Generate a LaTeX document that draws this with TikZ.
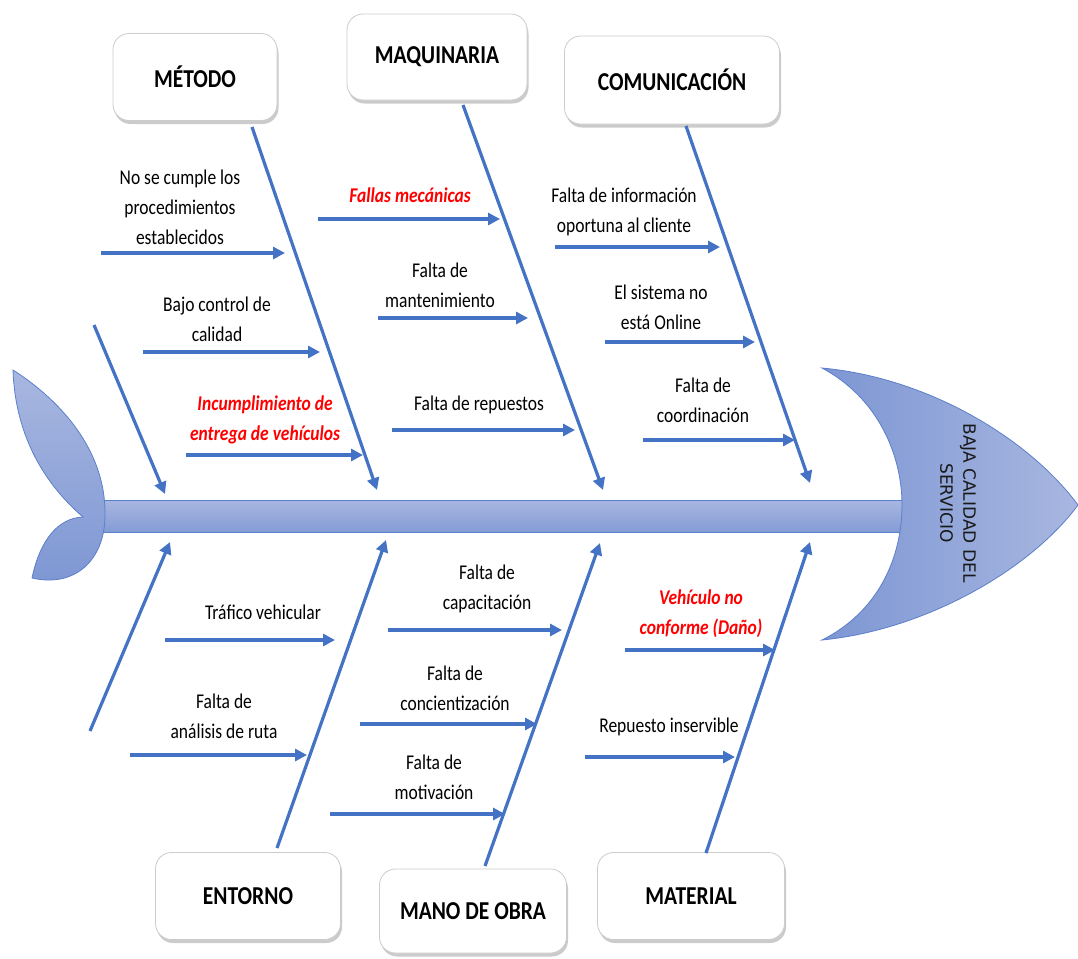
\documentclass[tikz,border=0pt]{standalone}
\usepackage{fontspec}
\usepackage{graphicx}
\setmainfont{Carlito}
\newfontfamily\headfont{DejaVu Sans}
\usetikzlibrary{arrows.meta,shadows}
\definecolor{bonec}{HTML}{4472C4}
\definecolor{fishA}{HTML}{A8B7E0}
\definecolor{fishB}{HTML}{7D96D3}
\definecolor{fishline}{HTML}{5B7FCB}
\newcommand\vs[1]{\scalebox{1}[1.2]{#1}}
\tikzset{
  catbox/.style={draw=black!20, fill=white, rounded corners=16pt, line width=0.8pt,
    drop shadow={shadow xshift=1.5pt,shadow yshift=-3.5pt,fill=black!45,opacity=.45},
    font=\fontsize{21.5}{26}\selectfont\bfseries},
  bonearrow/.style={draw=bonec, line width=3.2pt, -{Triangle[length=12pt,width=12pt]}},
  lab/.style={align=center, inner sep=0pt, font=\fontsize{17.5}{30}\selectfont},
  hot/.style={align=center, inner sep=0pt, text=red, font=\fontsize{17.5}{30}\selectfont\bfseries\itshape},
}
\begin{document}
\begin{tikzpicture}[x=1pt,y=-1pt]
\useasboundingbox (0,0) rectangle (1078,958);

% spine
\path[top color=fishA, bottom color=fishB!85!fishA, draw=fishline, line width=0.8pt]
  (100,500) rectangle (910,532);
% tail
\path[top color=fishA, bottom color=fishB, draw=fishline, line width=0.8pt]
  (13,370) .. controls (60,400) and (106,450) .. (105,515)
  .. controls (105,560) and (75,588) .. (32,578)
  .. controls (40,540) and (58,518) .. (83,517)
  .. controls (40,480) and (15,430) .. (13,370) -- cycle;
% head
\path[left color=fishB, right color=fishA, draw=fishline, line width=0.8pt]
  (822,368) .. controls (878,398) and (902,455) .. (902,505)
  .. controls (902,558) and (878,612) .. (822,640)
  .. controls (925,630) and (1030,570) .. (1078,505)
  .. controls (1030,440) and (930,378) .. (822,368) -- cycle;
\node[rotate=-90, align=center, inner sep=0pt, text=black!90, font=\headfont\fontsize{17}{23}\selectfont]
  (effect) at (958,503) {BAJA CALIDAD DEL\\SERVICIO};

% category boxes
\node[catbox, minimum width=164pt, minimum height=87pt] (metodo) at (195,77) {\vs{MÉTODO}};
\node[catbox, minimum width=180pt, minimum height=86pt] (maq) at (437,57) {\vs{MAQUINARIA}};
\node[catbox, minimum width=215pt, minimum height=88pt] (com) at (672,80) {\vs{COMUNICACIÓN}};
\node[catbox, minimum width=185pt, minimum height=87pt] (ent) at (248,896) {\vs{ENTORNO}};
\node[catbox, minimum width=187pt, minimum height=84pt] (mano) at (473,911) {\vs{MANO DE OBRA}};
\node[catbox, minimum width=187pt, minimum height=87pt] (mat) at (691,896) {\vs{MATERIAL}};

% main bones
\coordinate (mS) at (252,127);  \coordinate (mE) at (377,490);
\coordinate (qS) at (463,105);  \coordinate (qE) at (603,490);
\coordinate (cS) at (686,126);  \coordinate (cE) at (810,483);
\coordinate (lS) at (94,325);   \coordinate (lE) at (165,494);
\coordinate (l2S) at (90,731);  \coordinate (l2E) at (170,542);
\coordinate (eS) at (277,848);  \coordinate (eE) at (386,540);
\coordinate (oS) at (485,866);  \coordinate (oE) at (600,543);
\coordinate (aS) at (706,853);  \coordinate (aE) at (810,542);
\foreach \b in {m,q,c,l,l2,e,o,a} { \draw[bonearrow] (\b S) -- (\b E); }

% sub arrows
\foreach \n/\xa/\xb/\y in {1/101/285/253, 2/143/320/352, 3/186/363/455,
  4/318/500/219, 5/378/528/318, 6/392/575/430,
  7/555/720/247, 8/605/755/342, 9/643/795/440,
  10/165/335/640, 11/130/307/755,
  12/388/562/630, 13/360/537/724, 14/330/505/814,
  15/625/775/650, 16/585/735/757}
{ \coordinate (s\n a) at (\xa,\y); \coordinate (s\n b) at (\xb,\y);
  \draw[bonearrow] (s\n a) -- (s\n b); }

% labels
\node[lab] (t1) at (180,207) {\vs{No se cumple los}\\\vs{procedimientos}\\\vs{establecidos}};
\node[lab] (t2) at (217,319) {\vs{Bajo control de}\\\vs{calidad}};
\node[hot] (t3) at (265,420) {\vs{Incumplimiento de}\\\vs{entrega de vehículos}};
\node[hot] (t4) at (410,195) {\vs{Fallas mecánicas}};
\node[lab] (t5) at (440,285) {\vs{Falta de}\\\vs{mantenimiento}};
\node[lab] (t6) at (479,405) {\vs{Falta de repuestos}};
\node[lab] (t7) at (624,212) {\vs{Falta de información}\\\vs{oportuna al cliente}};
\node[lab] (t8) at (661,307) {\vs{El sistema no}\\\vs{está Online}};
\node[lab] (t9) at (703,400) {\vs{Falta de}\\\vs{coordinación}};
\node[lab] (t10) at (263,612) {\vs{Tráfico vehicular}};
\node[lab] (t11) at (224,716) {\vs{Falta de}\\\vs{análisis de ruta}};
\node[lab] (t12) at (487,589) {\vs{Falta de}\\\vs{capacitación}};
\node[lab] (t13) at (455,688) {\vs{Falta de}\\\vs{concientización}};
\node[lab] (t14) at (434,777) {\vs{Falta de}\\\vs{motivación}};
\node[hot] (t15) at (701,614) {\vs{Vehículo no}\\\vs{conforme (Daño)}};
\node[lab] (t16) at (669,727) {\vs{Repuesto inservible}};
\end{tikzpicture}
\end{document}
